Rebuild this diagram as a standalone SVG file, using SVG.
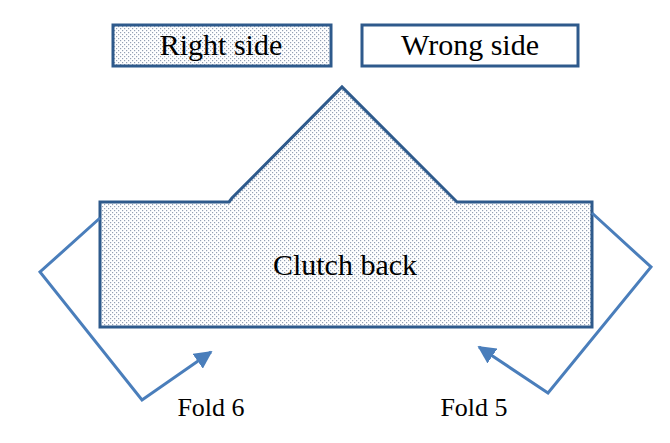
<svg xmlns="http://www.w3.org/2000/svg" width="670" height="443" viewBox="0 0 670 443">
<defs>
<pattern id="dots" width="4" height="4" patternUnits="userSpaceOnUse">
<rect width="4" height="4" fill="#ffffff"/>
<rect x="0" y="0" width="1.2" height="1.2" fill="#95a0b4"/>
<rect x="2" y="2" width="1.2" height="1.2" fill="#95a0b4"/>
</pattern>
<marker id="ah" viewBox="0 0 10 10" refX="9" refY="5" markerWidth="6" markerHeight="6" orient="auto" markerUnits="strokeWidth">
<path d="M0,0 L10,5 L0,10 Z" fill="#4a7ebb"/>
</marker>
</defs>
<style>
.shape{stroke:#2e5a8c;stroke-width:3;stroke-linejoin:miter}
.lbl{font-family:"Liberation Serif",serif;fill:#000;text-anchor:middle}
.conn{fill:none;stroke:#4a7ebb;stroke-width:3;stroke-linejoin:miter}
</style>
<rect width="670" height="443" fill="#ffffff"/>
<g id="legend-right">
<rect class="shape" x="113" y="25" width="218" height="41" fill="url(#dots)"/>
<text class="lbl" x="221" y="55" font-size="30">Right side</text>
</g>
<g id="legend-wrong">
<rect class="shape" x="362" y="25" width="216" height="41" fill="#ffffff"/>
<text class="lbl" x="470" y="55" font-size="30">Wrong side</text>
</g>
<g id="clutch-back">
<path class="shape" fill="url(#dots)" d="M100,202 L229,202 L232,198 L342,87 L453,198 L457,202 L592,202 L592,327 L100,327 Z"/>
<text class="lbl" x="345" y="275" font-size="30">Clutch back</text>
</g>
<g id="connectors">
<polyline class="conn" points="100,218 40,272 142,400 211,352" marker-end="url(#ah)"/>
<polyline class="conn" points="592,213 651,267 548,393 479,347" marker-end="url(#ah)"/>
</g>
<g id="labels">
<text class="lbl" x="211" y="416" font-size="26">Fold 6</text>
<text class="lbl" x="474" y="416" font-size="26">Fold 5</text>
</g>
</svg>
